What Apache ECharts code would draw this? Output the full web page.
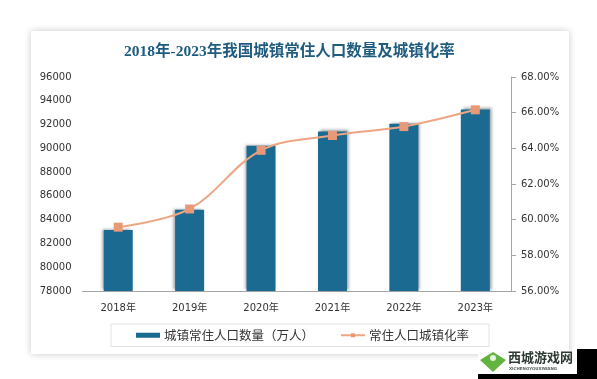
<!DOCTYPE html>
<html>
<head>
<meta charset="utf-8">
<style>
  html, body { margin: 0; padding: 0; background: #fff; }
  #chart { width: 597px; height: 379px; }
</style>
</head>
<body>
<div id="chart"></div>
<script src="https://cdn.jsdelivr.net/npm/echarts@6/dist/echarts.min.js"></script>
<script>
const years = ['2018年', '2019年', '2020年', '2021年', '2022年', '2023年']
const population = [83137, 84843, 90220, 91425, 92071, 93267]
const rate = [59.58, 60.6, 63.89, 64.72, 65.22, 66.16]
const popName = '城镇常住人口数量（万人）'
const rateName = '常住人口城镇化率'
const titleText = '2018年-2023年我国城镇常住人口数量及城镇化率'

const labelFont = { color: '#333', fontFamily: 'DejaVu Sans, Noto Sans CJK SC', fontSize: 10 }

const chart = echarts.init(document.getElementById('chart'), null, { renderer: 'canvas' })
chart.setOption({
  backgroundColor: '#fff',
  animation: false,
  title: {
    text: titleText,
    left: 124,
    top: 44,
    padding: 0,
    textStyle: {
      color: '#1f5c80',
      fontFamily: 'Liberation Serif, Noto Sans CJK SC',
      fontWeight: 'bold',
      fontSize: 15.5
    }
  },
  legend: {
    left: 111,
    top: 324,
    padding: [5, 20, 5, 25],
    itemGap: 26,
    itemWidth: 24,
    itemHeight: 5,
    borderColor: '#e2e2e2',
    borderWidth: 1,
    textStyle: { color: '#333', fontFamily: 'Noto Sans CJK SC', fontSize: 12.5, padding: [0, 0, 0, -1] },
    data: [
      { name: popName, icon: 'rect' },
      { name: rateName }
    ]
  },
  grid: { left: 82.5, right: 86, top: 77, bottom: 88 },
  xAxis: {
    type: 'category',
    data: years,
    axisTick: { show: false },
    axisLine: { lineStyle: { color: '#a6a6a6', width: 1 } },
    axisLabel: { ...labelFont, margin: 12 }
  },
  yAxis: [
    {
      type: 'value',
      min: 78000,
      max: 96000,
      interval: 2000,
      splitLine: { show: false },
      axisLine: { show: false },
      axisTick: { show: false },
      axisLabel: { ...labelFont, margin: 11, formatter: v => String(v) }
    },
    {
      type: 'value',
      min: 56,
      max: 68,
      interval: 2,
      position: 'right',
      splitLine: { show: false },
      axisLine: { show: true, lineStyle: { color: '#a6a6a6', width: 1 } },
      axisTick: { show: true, length: 5, lineStyle: { color: '#a6a6a6' } },
      axisLabel: { ...labelFont, margin: 10, formatter: v => v.toFixed(2) + '%' }
    }
  ],
  series: [
    {
      name: popName,
      type: 'bar',
      // left-hand bars throw their shadow left, right-hand ones right
      data: population.map((v, i) => ({
        value: v,
        itemStyle: { shadowOffsetX: i < 3 ? -2 : 2 }
      })),
      barWidth: 29,
      itemStyle: {
        color: '#1a6a92',
        shadowColor: 'rgba(70,80,90,0.55)',
        shadowBlur: 3,
        shadowOffsetY: -1
      }
    },
    {
      name: rateName,
      type: 'line',
      yAxisIndex: 1,
      data: rate,
      smooth: 0.35,
      symbol: 'rect',
      symbolSize: 9,
      lineStyle: { color: '#eda683', width: 2 },
      itemStyle: { color: '#e89a78' }
    }
  ],
  graphic: [
    {
      type: 'rect',
      z: -10,
      silent: true,
      shape: { x: 31, y: 31, width: 538, height: 323 },
      style: { fill: '#fff', shadowColor: 'rgba(0,0,0,0.22)', shadowBlur: 7 }
    },
    // watermark in the corner
    {
      type: 'rect',
      z: 20,
      silent: true,
      shape: { x: 478, y: 351, width: 100, height: 23 },
      style: { fill: '#fff' }
    },
    {
      type: 'rect',
      z: 20,
      silent: true,
      shape: { x: 478, y: 374, width: 119, height: 5 },
      style: { fill: '#000' }
    },
    {
      type: 'rect',
      z: 20,
      silent: true,
      shape: { x: 577, y: 349, width: 20, height: 30 },
      style: { fill: '#000' }
    },
    {
      type: 'polygon',
      z: 21,
      silent: true,
      shape: { points: [[480, 360], [493, 352], [506, 360], [493, 372]] },
      style: { fill: '#62b33f' }
    },
    {
      type: 'circle',
      z: 22,
      silent: true,
      shape: { cx: 493, cy: 358, r: 3 },
      style: { fill: '#e8f3df' }
    },
    {
      type: 'text',
      z: 21,
      silent: true,
      style: { x: 508, y: 351, text: '西城游戏网', fill: '#2d3a33', font: 'bold 13px "Noto Sans CJK SC"' }
    },
    {
      type: 'text',
      z: 21,
      silent: true,
      style: { x: 509, y: 367, text: 'XICHENGYOUXIWANG', fill: '#55605a', font: 'bold 4px "DejaVu Sans"' }
    }
  ]
})
</script>
</body>
</html>
